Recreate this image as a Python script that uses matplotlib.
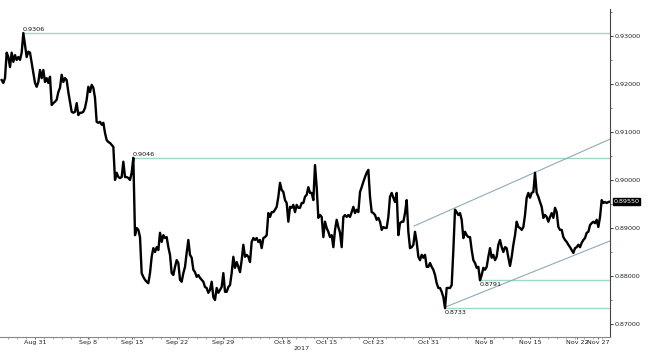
import numpy as np
import matplotlib
matplotlib.use("Agg")
import matplotlib.pyplot as plt
from matplotlib.ticker import MultipleLocator, FormatStrFormatter
import matplotlib.transforms as mtransforms

# price samples, evenly spaced in trading time
aug_sep = [.9208, .9202, .9212, .9265, .9256, .9235, .9265, .9246, .9260, .9250,
           .9256, .9250, .9265, .9306, .9281, .9256, .9267, .9265, .9244, .9223,
           .9202, .9194, .9204, .9229, .9212, .9229, .9204, .9212, .9202, .9215,
           .9156, .9160, .9163, .9167, .9183, .9192, .9219, .9204, .9212, .9208,
           .9183, .9163, .9142, .9140, .9142, .9160, .9135, .9140, .9140, .9142,
           .9150, .9167, .9194, .9183, .9198, .9192, .9171, .9121, .9119, .9121,
           .9115, .9119, .9098, .9083, .9079]
sep_mid = [.9077, .9073, .9069, .9000, .9015, .9006, .9004, .9006, .9038, .9006,
           .9006, .9004, .9000, .9015, .9046, .8885, .8900, .8896, .8881, .8806,
           .8798, .8792, .8788, .8785, .8806, .8840, .8858, .8850, .8860, .8854,
           .8890, .8871, .8885, .8879, .8881, .8860, .8844, .8806, .8802, .8819,
           .8833, .8827, .8792, .8788, .8806, .8819, .8848, .8875, .8844, .8838,
           .8813, .8808, .8798, .8802, .8796, .8792, .8788, .8777, .8775, .8765]
sep_oct = [.8771, .8788, .8756, .8750, .8775, .8765, .8771, .8777, .8806, .8767,
           .8767, .8777, .8781, .8806, .8840, .8817, .8829, .8819, .8808, .8833,
           .8865, .8840, .8844, .8840, .8829, .8871, .8879, .8875, .8879, .8871,
           .8875, .8858, .8879, .8881, .8885, .8931, .8923, .8933, .8933, .8938,
           .8944, .8965, .8994, .8979, .8975, .8958, .8952, .8913, .8944, .8942,
           .8948, .8933, .8948, .8942, .8942, .8952, .8952, .8965, .8969, .8985]
oct_mid = [.8973, .8973, .8958, .9031, .8985, .8921, .8927, .8923, .8881, .8913,
           .8900, .8892, .8881, .8885, .8860, .8896, .8917, .8902, .8890, .8860,
           .8923, .8927, .8923, .8927, .8923, .8933, .8944, .8931, .8938, .8933,
           .8975, .8985, .8996, .9006, .9015, .9021, .8965, .8933, .8931, .8927,
           .8917, .8921, .8913, .8896, .8902, .8900, .8900, .8923, .8965, .8973,
           .8963, .8954, .8973, .8885, .8910, .8913, .8913, .8931, .8958, .8892,
           .8858]
oct_nov = [.8860, .8865, .8892, .8871, .8840, .8833, .8844, .8838, .8844, .8819,
           .8819, .8827, .8819, .8813, .8802, .8785, .8775, .8775, .8767, .8756,
           .8733, .8775, .8775, .8775, .8781, .8854, .8938, .8933, .8927, .8931,
           .8917, .8879, .8892, .8885, .8881, .8881, .8854, .8833, .8827, .8817,
           .8819, .8791, .8802, .8817, .8813, .8819, .8840, .8858, .8838, .8844,
           .8833, .8840, .8865, .8875, .8860, .8850, .8860, .8858, .8838, .8821]
nov_end = [.8840, .8865, .8885, .8913, .8902, .8900, .8896, .8902, .8927, .8963,
           .8973, .8963, .8973, .8975, .9015, .8973, .8965, .8954, .8944, .8921,
           .8927, .8923, .8913, .8923, .8931, .8921, .8942, .8933, .8902, .8896,
           .8896, .8881, .8875, .8871, .8865, .8860, .8854, .8848, .8858, .8860,
           .8865, .8860, .8869, .8875, .8879, .8890, .8892, .8906, .8910, .8913,
           .8910, .8917, .8902, .8923, .8958, .8952, .8954, .8952, .8954, .8955]

price = np.array(aug_sep + sep_mid + sep_oct + oct_mid + oct_nov + nov_end)
t = np.arange(len(price))
last = 0.89550

# date labels and their positions on the sample axis
tick_pos = [20.0, 51.8, 78.2, 105.2, 132.8, 168.2, 195.2, 222.8, 256.4, 289.4, 317.0, 345.2, 357.8]
tick_lbl = ['Aug 31', 'Sep 8', 'Sep 15', 'Sep 22', 'Sep 29', 'Oct 8', 'Oct 15',
            'Oct 23', 'Oct 31', 'Nov 8', 'Nov 15', 'Nov 22', 'Nov 27']

# horizontal levels: value, start sample, label above/below
levels = [0.9306, 0.9046, 0.8791, 0.8733]
level_start = [13, 79, 287, 266]
level_above = [True, True, False, False]

# rising channel
upper_t = [247.4, 365]
upper_p = [0.8904, 0.9085]
lower_t = [266, 365]
lower_p = [0.8735, 0.8873]

fig = plt.figure(figsize=(6.5, 3.6), dpi=100)
ax = fig.add_axes([0.0, 0.064, 0.9385, 0.911])

lvl_col = '#9fd9c2'
ch_col = '#8eabb9'
fs = 4.6

for v, s, up in zip(levels, level_start, level_above):
    ax.plot([s, 365], [v, v], color=lvl_col, lw=1.0, zorder=1)
    if up:
        ax.text(s - 0.5, v + 0.0002, f'{v:.4f}', fontsize=fs, color='#111111',
                ha='left', va='bottom')
    else:
        ax.text(s, v - 0.0003, f'{v:.4f}', fontsize=fs, color='#111111',
                ha='left', va='top')

ax.plot(upper_t, upper_p, color=ch_col, lw=0.8, zorder=1)
ax.plot(lower_t, lower_p, color=ch_col, lw=0.8, zorder=1)

ax.plot(t, price, color='black', lw=1.7, zorder=3)

ax.set_xlim(-1, 365)
ax.set_ylim(0.8673, 0.9356)

# axes look
ax.spines['left'].set_visible(False)
ax.spines['top'].set_visible(False)
ax.spines['bottom'].set_color('#888888')
ax.spines['bottom'].set_linewidth(0.8)
ax.spines['right'].set_color('#444444')
ax.spines['right'].set_linewidth(0.8)

ax.yaxis.tick_right()
ax.yaxis.set_major_locator(MultipleLocator(0.01))
ax.yaxis.set_minor_locator(MultipleLocator(0.005))
ax.yaxis.set_major_formatter(FormatStrFormatter('%.5f'))
ax.tick_params(axis='y', which='major', length=2.5, width=0.6, pad=0.5,
               labelsize=fs, colors='#222222')
ax.tick_params(axis='y', which='minor', length=1.5, width=0.5, colors='#444444')

ax.set_xticks(tick_pos)
ax.set_xticklabels(tick_lbl)
ax.xaxis.set_minor_locator(MultipleLocator(5.4, offset=3.8))
ax.tick_params(axis='x', which='major', length=1.5, width=0.5, pad=0.5,
               labelsize=fs, colors='#222222')
ax.tick_params(axis='x', which='minor', length=1.5, width=0.5, colors='#888888')

trans = mtransforms.blended_transform_factory(ax.transData, ax.transAxes)
ax.text(180, -0.034, '2017', transform=trans, fontsize=fs, color='#222222',
        ha='center', va='center')

# last price tag on the right axis
ax.annotate(f'{last:.5f}', xy=(1.0, last), xycoords=('axes fraction', 'data'),
            xytext=(2.5, 0), textcoords='offset points', fontsize=fs,
            color='white', ha='left', va='center',
            bbox=dict(boxstyle='square,pad=0.15', fc='black', ec='black'))

fig.savefig('out.png', dpi=100)
